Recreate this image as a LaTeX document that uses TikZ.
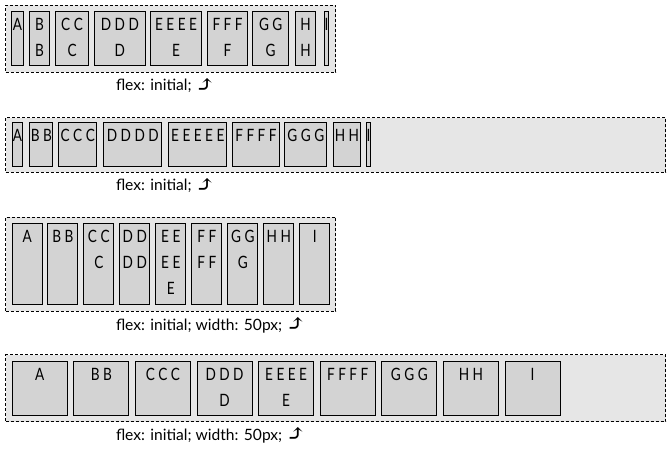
\documentclass[tikz,border=0pt]{standalone}
\usepackage{fontspec}
\newfontfamily\itemfont{Lato}
\newfontfamily\itemfontn[FakeStretch=0.8]{Lato}
\newfontfamily\arrowfontraw{DejaVu Serif}
\newcommand\curvarrow{{\arrowfontraw\fontsize{23}{23}\selectfont\raisebox{-1.2pt}{⤴}}}
\definecolor{contgray}{RGB}{230,230,230}
\definecolor{boxgray}{RGB}{211,211,211}
\tikzset{
  container/.style={draw=black, fill=contgray, line width=0.9pt, dash pattern=on 3pt off 2pt, anchor=north west, inner sep=0pt, outer sep=0pt},
  itembox/.style={draw=black, fill=boxgray, line width=1pt, anchor=north west, inner sep=0pt, outer sep=0pt},
  itemtxt/.style={anchor=base, inner sep=0pt, outer sep=0pt, font=\itemfontn\fontsize{17}{20}\selectfont},
  lbl/.style={anchor=base west, inner sep=0pt, outer sep=0pt, font=\itemfont\fontsize{15.6}{18}\selectfont}
}
\newcommand\flexcont[5]{%
  \pgfmathsetmacro\cw{#4-#2}\pgfmathsetmacro\ch{#5-#3}%
  \node[container, minimum width=\cw pt, minimum height=\ch pt] (#1) at (#2,#3) {};}
\newcommand\flexitem[6]{%
  \pgfmathsetmacro\fw{#4-#2}\pgfmathsetmacro\fh{#5-#3}%
  \node[itembox, minimum width=\fw pt, minimum height=\fh pt] (#1) at (#2,#3) {};
  \foreach \ln [count=\i] in {#6} {\node[itemtxt] (#1-\i) at ([yshift={-19pt-(\i-1)*26.3pt}]#1.north) {\ln};}}
\begin{document}
\begin{tikzpicture}[x=1pt,y=-1pt]
\useasboundingbox (0,0) rectangle (672,449);
% Row 1
\flexcont{c1}{5.5}{5.5}{335.5}{72.5}
\flexitem{r1a}{11.8}{11.5}{23}{65.8}{A}
\flexitem{r1b}{29.8}{11.5}{49.3}{65.8}{B,B}
\flexitem{r1c}{55.5}{11.5}{88.6}{65.8}{C C,C}
\flexitem{r1d}{94.8}{11.5}{145}{65.8}{D D D,D}
\flexitem{r1e}{150.8}{11.5}{201.3}{65.8}{E E E E,E}
\flexitem{r1f}{207.8}{11.5}{247.3}{65.8}{F F F,F}
\flexitem{r1g}{252.8}{11.5}{288.6}{65.8}{G G,G}
\flexitem{r1h}{295.5}{11.5}{315.6}{65.8}{H,H}
\flexitem{r1i}{324.5}{11.5}{328.7}{65.8}{I}
\node[lbl] (l1) at (116,91) {flex: initial; \curvarrow};
% Row 2
\flexcont{c2}{5.5}{117.8}{665.5}{172.3}
\flexitem{r2a}{12.2}{122.8}{22.8}{166.8}{A}
\flexitem{r2b}{29.8}{122.8}{52.8}{166.8}{B B}
\flexitem{r2c}{58.8}{122.8}{96.8}{166.8}{C C C}
\flexitem{r2d}{103.8}{122.8}{161.8}{166.8}{D D D D}
\flexitem{r2e}{168.8}{122.8}{226.8}{166.8}{E E E E E}
\flexitem{r2f}{232.8}{122.8}{279.2}{166.8}{F F F F}
\flexitem{r2g}{284.8}{122.8}{326.8}{166.8}{G G G}
\flexitem{r2h}{333.8}{122.8}{360.2}{166.8}{H H}
\flexitem{r2i}{366.5}{122.8}{370.5}{166.8}{I}
\node[lbl] (l2) at (116,191) {flex: initial; \curvarrow};
% Row 3
\flexcont{c3}{5.5}{217.2}{335.5}{311.2}
\flexitem{r3a}{12.2}{223.2}{42.2}{304.5}{A}
\flexitem{r3b}{47.8}{223.2}{77.8}{304.5}{B B}
\flexitem{r3c}{83.8}{223.2}{113.8}{304.5}{C C,C}
\flexitem{r3d}{119.8}{223.2}{149.8}{304.5}{D D,D D}
\flexitem{r3e}{155.8}{223.2}{185.8}{304.5}{E E,E E,E}
\flexitem{r3f}{191.8}{223.2}{221.8}{304.5}{F F,F F}
\flexitem{r3g}{227.8}{223.2}{257.8}{304.5}{G G,G}
\flexitem{r3h}{263.8}{223.2}{293.8}{304.5}{H H}
\flexitem{r3i}{299.8}{223.2}{329.8}{304.5}{I}
\node[lbl] (l3) at (116,330) {flex: initial; width: 50px; \curvarrow};
% Row 4
\flexcont{c4}{5.5}{354.8}{665.5}{421.8}
\flexitem{r4a}{12.2}{361.5}{67.2}{415.8}{A}
\flexitem{r4b}{73.8}{361.5}{128.8}{415.8}{B B}
\flexitem{r4c}{135.4}{361.5}{190.4}{415.8}{C C C}
\flexitem{r4d}{197}{361.5}{252}{415.8}{D D D,D}
\flexitem{r4e}{258.6}{361.5}{313.6}{415.8}{E E E E,E}
\flexitem{r4f}{320.2}{361.5}{375.2}{415.8}{F F F F}
\flexitem{r4g}{381.8}{361.5}{436.8}{415.8}{G G G}
\flexitem{r4h}{443.4}{361.5}{498.4}{415.8}{H H}
\flexitem{r4i}{505}{361.5}{560}{415.8}{I}
\node[lbl] (l4) at (116,440.5) {flex: initial; width: 50px; \curvarrow};
\end{tikzpicture}
\end{document}
